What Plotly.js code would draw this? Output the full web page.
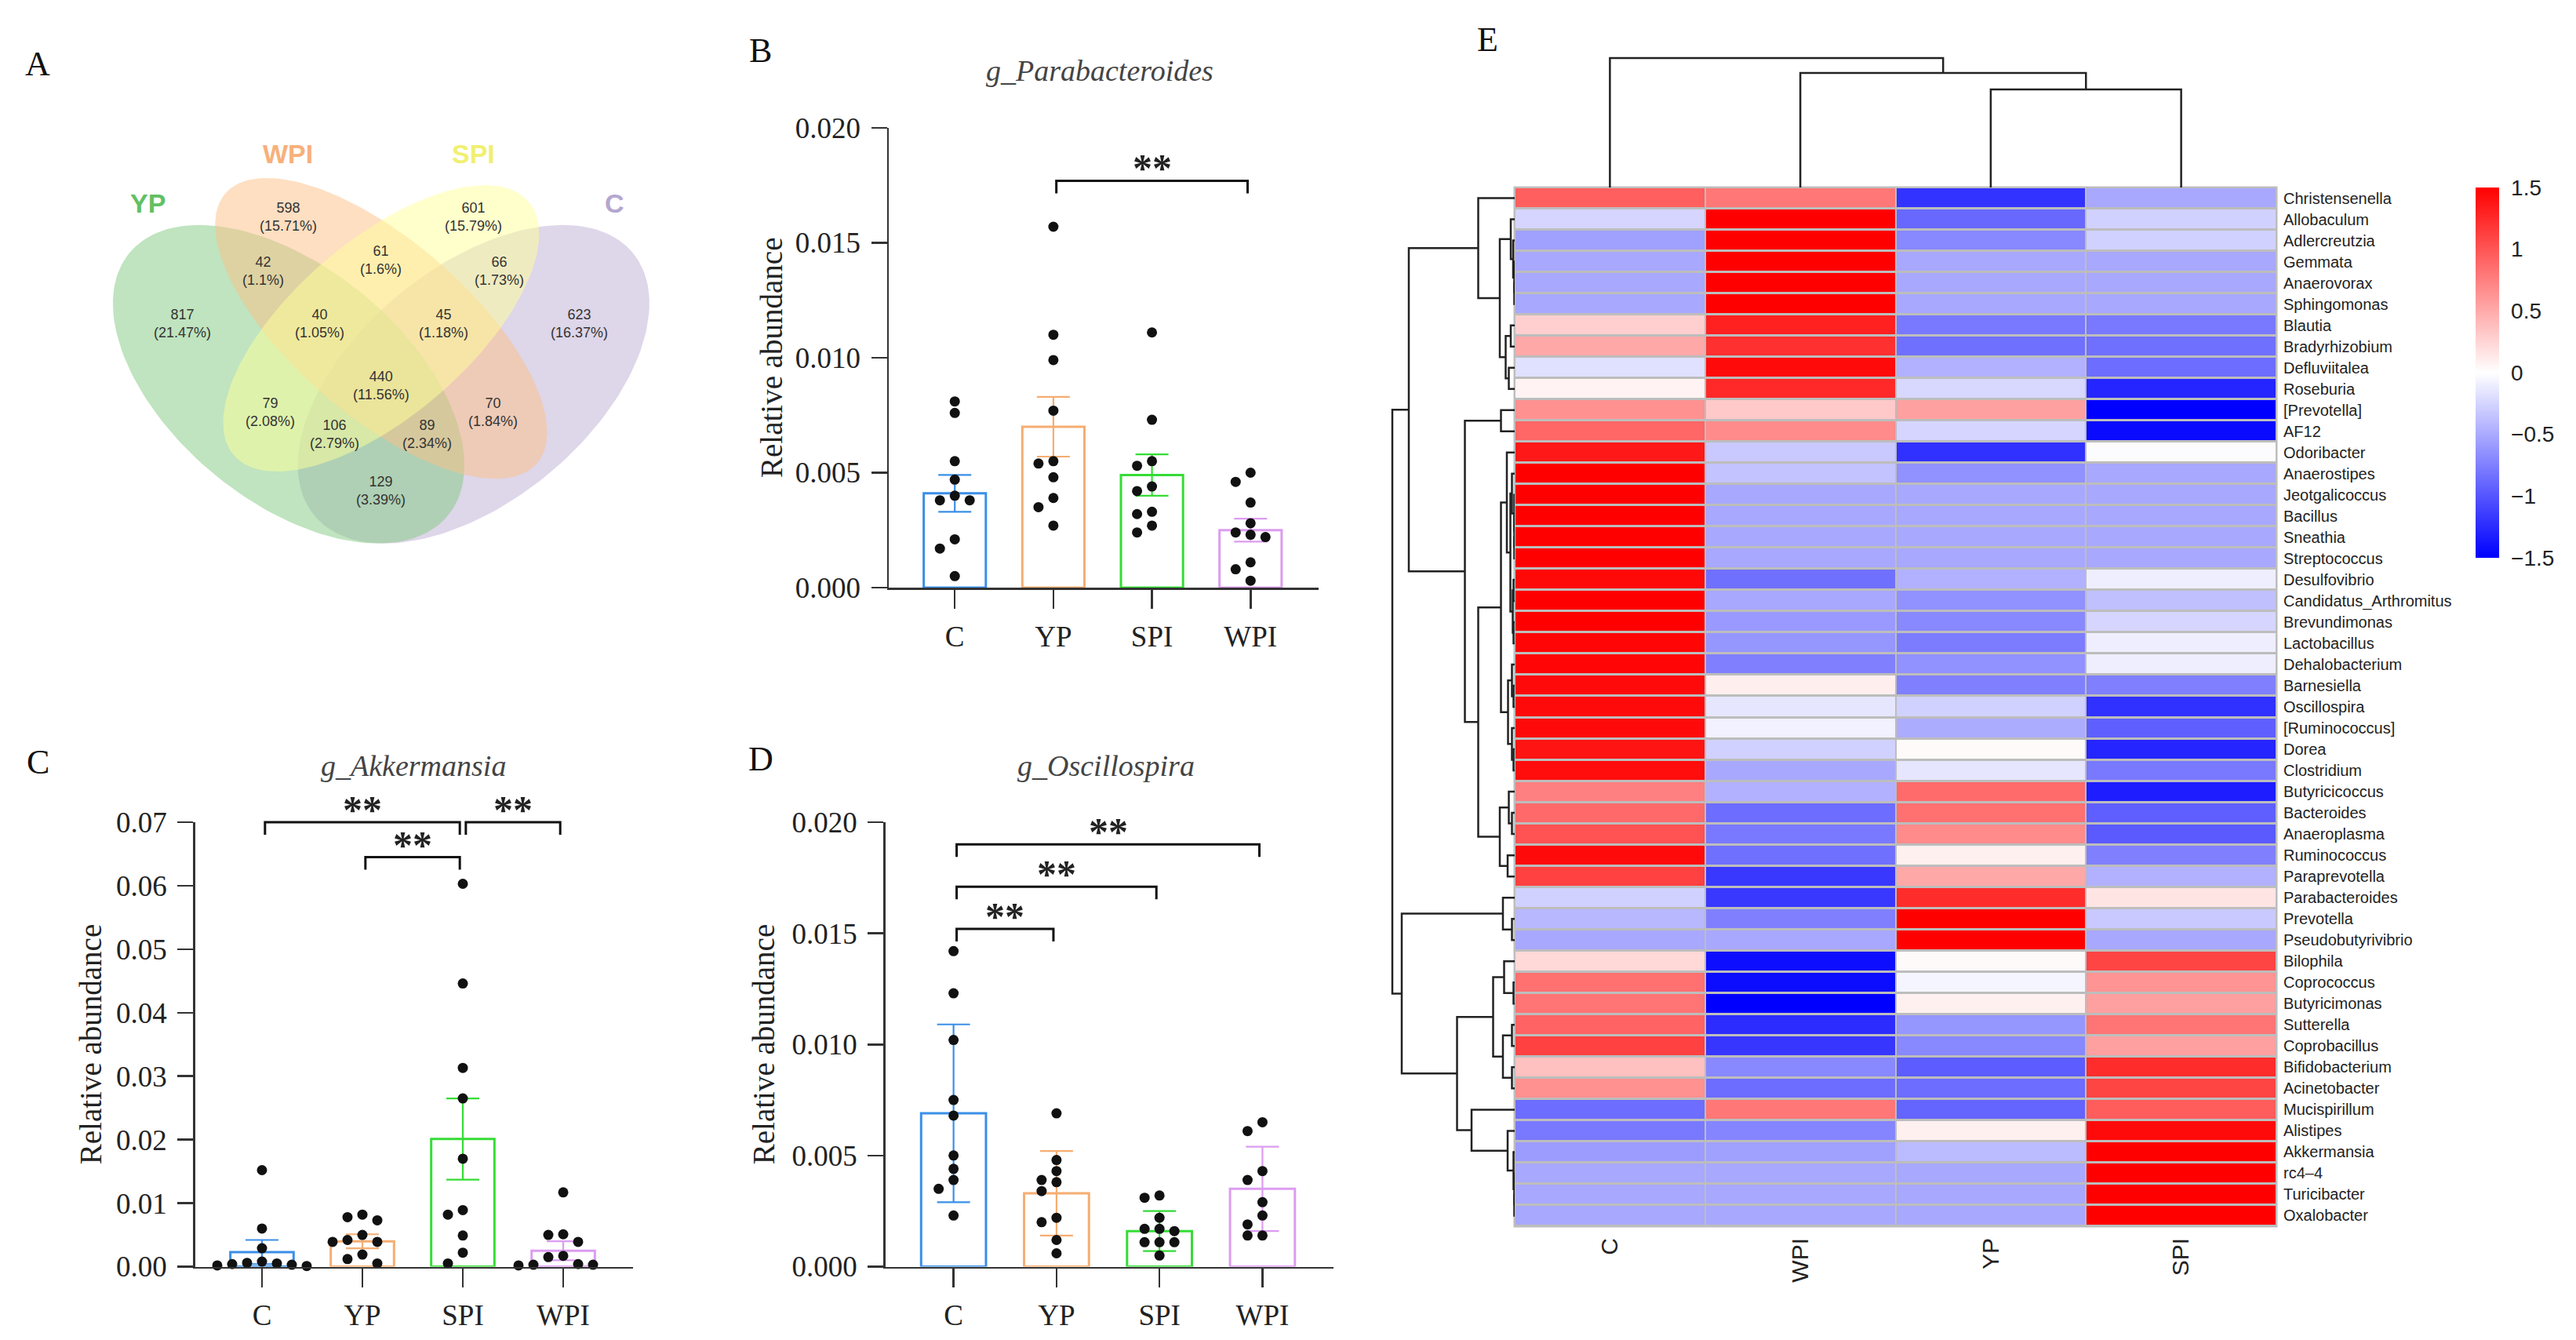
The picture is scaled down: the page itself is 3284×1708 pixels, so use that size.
<!DOCTYPE html>
<html><head><meta charset="utf-8">
<script src="https://cdn.plot.ly/plotly-3.0.1.min.js"></script>
<style>html,body{margin:0;padding:0;background:#fff}</style>
</head><body><div id="chart" style="width:3284px;height:1708px"></div>
<script>
// ===================== DATA =====================
// Panel A: Venn diagram
const vennSets = ['YP', 'WPI', 'SPI', 'C'];
const vennRegionNames = ['YP','WPI','SPI','C','YP&WPI','WPI&SPI','SPI&C','YP&WPI&SPI','WPI&SPI&C','ALL','YP&SPI','WPI&C','YP&SPI&C','YP&WPI&C','YP&C'];
const vennCounts = [817, 598, 601, 623, 42, 61, 66, 40, 45, 440, 79, 70, 106, 89, 129];

// Bar panels
const groups = ['C', 'YP', 'SPI', 'WPI'];

// B: g_Parabacteroides
const parabMean = [0.0041, 0.0070, 0.0049, 0.0025];
const parabErr  = [0.0008, 0.0013, 0.0009, 0.0005];
const parabC   = [0.0081,0.0076,0.0055,0.0047,0.0040,0.0038,0.0038,0.0021,0.0017,0.0005];
const parabYP  = [0.0157,0.0110,0.0099,0.0077,0.0055,0.0054,0.0048,0.0039,0.0035,0.0027];
const parabSPI = [0.0111,0.0073,0.0055,0.0053,0.0044,0.0042,0.0033,0.0032,0.0027,0.0024];
const parabWPI = [0.0050,0.0046,0.0037,0.0028,0.0024,0.0023,0.0022,0.0011,0.0008,0.0003];
const parabSig = [['YP','WPI',0.0177]];

// C: g_Akkermansia
const akkMean = [0.0023, 0.0040, 0.0201, 0.0025];
const akkErr  = [0.0019, 0.0011, 0.0064, 0.0015];
const akkC   = [0.0152,0.0060,0.0029,0.0008,0.0006,0.0005,0.0004,0.0003,0.0002,0.0001];
const akkYP  = [0.0082,0.0078,0.0073,0.0050,0.0042,0.0039,0.0039,0.0019,0.0012,0.0005];
const akkSPI = [0.0603,0.0446,0.0313,0.0265,0.0170,0.0089,0.0082,0.0049,0.0022,0.0005];
const akkWPI = [0.0117,0.0051,0.0050,0.0039,0.0017,0.0015,0.0004,0.0003,0.0003,0.0002];
const akkSig = [['C','SPI',0.0700],['SPI','WPI',0.0700],['YP','SPI',0.0645]];

// D: g_Oscillospira
const oscMean = [0.0069, 0.0033, 0.0016, 0.0035];
const oscErr  = [0.0040, 0.0019, 0.0009, 0.0019];
const oscC   = [0.0142,0.0123,0.0102,0.0075,0.0068,0.0050,0.0044,0.0039,0.0035,0.0023];
const oscYP  = [0.0069,0.0048,0.0043,0.0039,0.0038,0.0034,0.0022,0.0020,0.0012,0.0006];
const oscSPI = [0.0032,0.0031,0.0022,0.0017,0.0017,0.0016,0.0011,0.0011,0.0011,0.0005];
const oscWPI = [0.0065,0.0061,0.0043,0.0039,0.0029,0.0023,0.0019,0.0014,0.0014];
const oscSig = [['C','YP',0.0152],['C','SPI',0.0171],['C','WPI',0.0190]];

// E: heatmap (z-scores), columns in clustered order
const hmCols = ['C', 'WPI', 'YP', 'SPI'];
const hmRows = ['Christensenella','Allobaculum','Adlercreutzia','Gemmata','Anaerovorax','Sphingomonas','Blautia','Bradyrhizobium','Defluviitalea','Roseburia','[Prevotella]','AF12','Odoribacter','Anaerostipes','Jeotgalicoccus','Bacillus','Sneathia','Streptococcus','Desulfovibrio','Candidatus_Arthromitus','Brevundimonas','Lactobacillus','Dehalobacterium','Barnesiella','Oscillospira','[Ruminococcus]','Dorea','Clostridium','Butyricicoccus','Bacteroides','Anaeroplasma','Ruminococcus','Paraprevotella','Parabacteroides','Prevotella','Pseudobutyrivibrio','Bilophila','Coprococcus','Butyricimonas','Sutterella','Coprobacillus','Bifidobacterium','Acinetobacter','Mucispirillum','Alistipes','Akkermansia','rc4\u20134','Turicibacter','Oxalobacter'];
const hmC   = [0.94,-0.25,-0.56,-0.51,-0.51,-0.51,0.28,0.51,-0.18,0.07, 0.65,0.9,1.36,1.5,1.5,1.5,1.5,1.5,1.45,1.5, 1.5,1.47,1.47,1.44,1.44,1.44,1.38,1.43,0.75,0.88, 1.02,1.44,1.12,-0.27,-0.42,-0.51,0.23,0.84,0.82,0.92, 1.12,0.37,0.65,-0.86,-0.79,-0.58,-0.51,-0.51,-0.51];
const hmWPI = [0.8,1.5,1.5,1.5,1.5,1.5,1.31,1.22,1.44,1.26, 0.32,0.68,-0.32,-0.35,-0.51,-0.51,-0.51,-0.51,-0.84,-0.51, -0.6,-0.62,-0.75,0.1,-0.15,-0.08,-0.27,-0.51,-0.46,-0.86, -0.79,-0.84,-1.17,-1.17,-0.75,-0.51,-1.42,-1.43,-1.5,-1.24, -1.18,-0.7,-0.86,0.8,-0.72,-0.56,-0.51,-0.51,-0.51];
const hmYP  = [-1.2,-0.89,-0.7,-0.51,-0.51,-0.51,-0.79,-0.84,-0.46,-0.23, 0.56,-0.25,-1.22,-0.65,-0.51,-0.51,-0.51,-0.51,-0.46,-0.65, -0.7,-0.77,-0.65,-0.75,-0.27,-0.49,0.03,-0.15,0.87,0.84, 0.68,0.09,0.51,1.24,1.5,1.5,0.03,-0.06,0.09,-0.62, -0.7,-0.96,-0.86,-0.91,0.09,-0.4,-0.51,-0.51,-0.51];
const hmSPI = [-0.51,-0.27,-0.27,-0.51,-0.51,-0.51,-0.79,-0.84,-0.86,-1.28, -1.5,-1.44,-0.02,-0.51,-0.51,-0.51,-0.51,-0.51,-0.1,-0.37, -0.25,-0.1,-0.1,-0.75,-1.22,-0.94,-1.28,-0.79,-1.33,-0.94, -0.97,-0.75,-0.46,0.16,-0.32,-0.51,1.1,0.63,0.56,0.82, 0.56,1.24,1.1,0.96,1.44,1.5,1.5,1.5,1.5];
const hmColorTicks = [-1.5, -1, -0.5, 0, 0.5, 1, 1.5];

// Clustering trees: [mergeDistance, left, right]; leaves are row/column indices
const colTree = [165, 0, [146, 1, [125, 2, 3]]];
const rowTree = [156,
  [135,
    [46.5, 0, [19, [5, 1, [2, 2, [0.5, 3, [0.5, 4, 5]]]], [11.5, [5, 6, 7], [7.5, 8, 9]]]],
    [63.5, [17.5, 10, 11],
      [46.5,
        [17.5,
          [10, 12, [5.5, [3.5, 13, [0.5, 14, [0.5, 15, [0.5, 16, 17]]]], [2.5, [1.5, 18, 19], [1.5, 20, 21]]]],
          [8.5, [3.5, 22, [1.5, 23, 24]], [3.5, 25, [1.5, 26, 27]]]],
        [19, [7.5, 28, [3.5, 29, 30]], [9, 31, 32]]]]],
  [144,
    [15, 33, [3.5, 34, 35]],
    [73.5,
      [27.5, [13.5, 36, [1.5, 37, 38]], [15, [3.5, 39, 40], [3.5, 41, 42]]],
      [55, 43, [9, 44, [1.5, 45, [0.5, 46, [0.5, 47, 48]]]]]]]];

// ===================== STYLE / LAYOUT CONSTANTS =====================
const W = 3284, H = 1708;
const SERIF = 'Liberation Serif', SANS = 'Liberation Sans';
const groupColors = ['#3a8fe8', '#f5ad72', '#35dc35', '#dc9cf0'];
const vennFill = {YP:'rgba(127,201,127,0.5)', WPI:'rgba(253,192,134,0.5)', SPI:'rgba(255,255,153,0.5)', C:'rgba(190,174,212,0.5)'};
const vennLabelColor = {YP:'#62c062', WPI:'#f8b07a', SPI:'#f0f070', C:'#b5a6cf'};
const vennEllipses = [ // VennDiagram quad layout (unit coords)
  {set:'C',   cx:0.65, cy:0.47, a:0.35, b:0.20, rot:45},
  {set:'YP',  cx:0.35, cy:0.47, a:0.35, b:0.20, rot:135},
  {set:'WPI', cx:0.50, cy:0.57, a:0.35, b:0.15, rot:135},
  {set:'SPI', cx:0.50, cy:0.57, a:0.33, b:0.15, rot:45}];
const vennLabelPos = [[0.178,0.579],[0.349,0.770],[0.649,0.770],[0.821,0.579],[0.309,0.672],[0.5,0.692],[0.691,0.672],[0.400,0.579],[0.601,0.579],[0.5,0.468],[0.320,0.420],[0.681,0.420],[0.425,0.380],[0.575,0.380],[0.5,0.280]];
const vennSetPos = {YP:[0.122,0.794], WPI:[0.349,0.883], SPI:[0.649,0.883], C:[0.879,0.794]};

const ydom = (top, bot) => [1 - bot / H, 1 - top / H];
const xdom = (l, r) => [l / W, r / W];

const traces = [];
const shapes = [];
const annotations = [];
const layout = {
  width: W, height: H, margin: {l:0, r:0, t:0, b:0},
  paper_bgcolor: '#ffffff', plot_bgcolor: 'rgba(0,0,0,0)',
  showlegend: false, font: {family: SERIF, color: '#222'}
};

// ===================== PANEL A: VENN =====================
layout.xaxis5 = {domain: xdom(92.9, 878.9), range: [0, 1], visible: false, anchor: 'y5', fixedrange: true};
layout.yaxis5 = {domain: ydom(112.4, 824.4), range: [0, 1], visible: false, anchor: 'x5', fixedrange: true};
vennEllipses.forEach(e => {
  const xs = [], ys = [], th = e.rot * Math.PI / 180;
  for (let k = 0; k <= 180; k++) {
    const t = 2 * Math.PI * k / 180;
    const ex = e.a * Math.cos(t), ey = e.b * Math.sin(t);
    xs.push(e.cx + ex * Math.cos(th) - ey * Math.sin(th));
    ys.push(e.cy + ex * Math.sin(th) + ey * Math.cos(th));
  }
  traces.push({type:'scatter', mode:'lines', x: xs, y: ys, xaxis:'x5', yaxis:'y5', fill:'toself',
    fillcolor: vennFill[e.set], line:{width:0, color:'rgba(0,0,0,0)'}, hoverinfo:'skip'});
});
const vennTotal = vennCounts.reduce((s, v) => s + v, 0);
vennCounts.forEach((c, i) => {
  const pct = parseFloat((c / vennTotal * 100).toFixed(2)).toString();
  annotations.push({xref:'x5', yref:'y5', x: vennLabelPos[i][0], y: vennLabelPos[i][1], text: c + '<br>(' + pct + '%)',
    showarrow:false, font:{family:SANS, size:18, color:'#333'}, xanchor:'center', yanchor:'middle'});
});
vennSets.forEach(s => {
  annotations.push({xref:'x5', yref:'y5', x: vennSetPos[s][0], y: vennSetPos[s][1], text: '<b>' + s + '</b>',
    showarrow:false, font:{family:SANS, size:34, color: vennLabelColor[s]}, xanchor:'center', yanchor:'middle'});
});

// ===================== BAR PANELS =====================
function swarm(vals, pxPerUnit, step, minDist) {
  const placed = [], offs = [];
  vals.forEach(v => {
    const y = v * pxPerUnit;
    for (let k = 0; k < 30; k++) {
      const o = (k === 0 ? 0 : (k % 2 === 1 ? -1 : 1) * Math.ceil(k / 2)) * step;
      if (placed.every(p => Math.hypot(p.o - o, p.y - y) >= minDist)) { placed.push({o, y}); offs.push(o); break; }
    }
  });
  return offs;
}

function barPanel(P, means, errs, pts, sig, title) {
  const xk = 'xaxis' + P.n, yk = 'yaxis' + P.n, xa = 'x' + P.n, ya = 'y' + P.n;
  layout[xk] = {domain: xdom(P.xd[0], P.xd[1]), range: P.xr, anchor: ya, tickvals: groups.map((g, i) => i), ticktext: groups,
    showline: true, linecolor: '#333', linewidth: 2.5, ticks: 'outside', ticklen: 24, tickwidth: 2.5, tickcolor: '#333',
    tickfont: {family: SERIF, size: 37, color: '#222'}, ticklabelstandoff: 4, showgrid: false, zeroline: false, automargin: false, fixedrange: true};
  const tv = []; for (let v = P.yr[0]; v <= P.yr[1] + 1e-9; v += P.dtick) tv.push(+v.toFixed(6));
  layout[yk] = {domain: ydom(P.yd[0], P.yd[1]), range: P.yr, anchor: xa, tickvals: tv, ticktext: tv.map(v => v.toFixed(P.dec)),
    showline: true, linecolor: '#333', linewidth: 2.5, ticks: 'outside', ticklen: 20, tickwidth: 2.5, tickcolor: '#333',
    tickfont: {family: SERIF, size: 37, color: '#222'}, ticklabelstandoff: 6, showgrid: false, zeroline: false, automargin: false, fixedrange: true};
  groups.forEach((g, i) => {
    traces.push({type:'bar', x:[i], y:[means[i]], width:0.63, xaxis: xa, yaxis: ya,
      marker:{color:'rgba(255,255,255,0)', line:{color: groupColors[i], width: 3}},
      error_y:{type:'data', array:[errs[i]], visible:true, color: groupColors[i], thickness: 2.2, width: 21}, hoverinfo:'skip'});
  });
  const pxPerUnit = (P.yd[1] - P.yd[0]) / (P.yr[1] - P.yr[0]);
  const pxPerCat = (P.xd[1] - P.xd[0]) / (P.xr[1] - P.xr[0]);
  const xs = [], ys = [];
  pts.forEach((arr, i) => {
    const offs = swarm(arr, pxPerUnit, 19, 14);
    arr.forEach((v, k) => { xs.push(i + offs[k] / pxPerCat); ys.push(v); });
  });
  traces.push({type:'scatter', mode:'markers', x: xs, y: ys, xaxis: xa, yaxis: ya, cliponaxis: false,
    marker:{color:'#111', size: 13}, hoverinfo:'skip'});
  // significance brackets (paper coords via the panel's scale)
  const xpx = v => P.xd[0] + (v - P.xr[0]) / (P.xr[1] - P.xr[0]) * (P.xd[1] - P.xd[0]);
  const ypx = v => P.yd[1] - (v - P.yr[0]) * pxPerUnit;
  sig.forEach(([a, b, yv]) => {
    const x1 = xpx(groups.indexOf(a) + 0.03) / W, x2 = xpx(groups.indexOf(b) - 0.03) / W;
    const yTop = 1 - ypx(yv) / H, yLow = 1 - (ypx(yv) + 16) / H;
    shapes.push({type:'path', xref:'paper', yref:'paper', path: `M ${x1} ${yLow} L ${x1} ${yTop} L ${x2} ${yTop} L ${x2} ${yLow}`,
      line:{color:'#111', width: 3}});
    annotations.push({xref:'paper', yref:'paper', x: (x1 + x2) / 2, y: yTop, yshift: -14, xanchor:'center', yanchor:'bottom',
      text:'<b>**</b>', showarrow:false, font:{family: SERIF, size: 50, color:'#222'}});
  });
  // title, y title, letter
  annotations.push({xref:'paper', yref:'paper', x: P.title[0] / W, y: 1 - P.title[1] / H, text: title, showarrow:false,
    xanchor:'center', yanchor:'middle', font:{family: SERIF, size: 38, color:'#444', style:'italic'}});
  annotations.push({xref:'paper', yref:'paper', x: P.ytitle / W, y: 1 - (P.yd[0] + P.yd[1]) / 2 / H, text:'Relative abundance',
    textangle: -90, showarrow:false, xanchor:'center', yanchor:'middle', font:{family: SERIF, size: 39, color:'#222'}});
  annotations.push({xref:'paper', yref:'paper', x: P.letter[0] / W, y: 1 - P.letter[1] / H, text: P.letterText, showarrow:false,
    xanchor:'center', yanchor:'middle', font:{family: SERIF, size: 44, color:'#111'}});
}

const PB = {n:'', xd:[1133,1681], yd:[163,749], xr:[-0.67,3.69], yr:[0,0.020], dtick:0.005, dec:3, title:[1402,90], ytitle:983, letter:[969,65], letterText:'B'};
const PC = {n:'2', xd:[248.6,807], yd:[1048,1614.5], xr:[-0.667,3.695], yr:[0,0.07], dtick:0.01, dec:2, title:[527,976], ytitle:115, letter:[48,971], letterText:'C'};
const PD = {n:'3', xd:[1128.6,1700], yd:[1048,1614.5], xr:[-0.663,3.69], yr:[0,0.020], dtick:0.005, dec:3, title:[1410,976], ytitle:973, letter:[970,968], letterText:'D'};
barPanel(PB, parabMean, parabErr, [parabC, parabYP, parabSPI, parabWPI], parabSig, 'g_Parabacteroides');
barPanel(PC, akkMean, akkErr, [akkC, akkYP, akkSPI, akkWPI], akkSig, 'g_Akkermansia');
barPanel(PD, oscMean, oscErr, [oscC, oscYP, oscSPI, oscWPI], oscSig, 'g_Oscillospira');
annotations.push({xref:'paper', yref:'paper', x: 48 / W, y: 1 - 82 / H, text:'A', showarrow:false, xanchor:'center', yanchor:'middle', font:{family: SERIF, size: 44, color:'#111'}});

// ===================== PANEL E: HEATMAP =====================
const HM = {x0:1931, x1:2902, y0:239, y1:1563};
const z = hmRows.map((r, i) => [hmC[i], hmWPI[i], hmYP[i], hmSPI[i]]);
shapes.push({type:'rect', xref:'paper', yref:'paper', layer:'below', x0:(HM.x0 - 1.5) / W, x1:(HM.x1 + 1.5) / W,
  y0: 1 - (HM.y1 + 1.5) / H, y1: 1 - (HM.y0 - 1.5) / H, fillcolor:'#bdbdbd', line:{width:0}});
traces.push({type:'heatmap', x: hmCols, y: hmRows, z: z, xaxis:'x4', yaxis:'y4', xgap: 2, ygap: 3,
  colorscale:[[0,'#0000ff'],[0.5,'#ffffff'],[1,'#ff0000']], zmin:-1.5, zmax:1.5, hoverinfo:'skip',
  colorbar:{x: 3156 / W, xanchor:'left', xpad:0, y: 1 - 475 / H, yanchor:'middle', ypad:0, len: 472, lenmode:'pixels',
    thickness: 30, thicknessmode:'pixels', outlinewidth: 0, tickvals: hmColorTicks, ticks:'outside', ticklen: 10,
    tickcolor:'rgba(0,0,0,0)', tickfont:{family: SANS, size: 28, color:'#222'}}});
layout.xaxis4 = {domain: xdom(HM.x0, HM.x1), range:[-0.5, 3.5], anchor:'y4', type:'category', tickangle:-90, ticks:'',
  tickfont:{family: SANS, size: 30, color:'#222'}, ticklabelstandoff: 8, showgrid:false, zeroline:false, showline:false, automargin:false, fixedrange:true};
layout.yaxis4 = {domain: ydom(HM.y0, HM.y1), range:[48.5, -0.5], anchor:'x4', type:'category', side:'right', ticks:'',
  tickfont:{family: SANS, size: 20, color:'#222'}, ticklabelstandoff: 8, showgrid:false, zeroline:false, showline:false, automargin:false, fixedrange:true};
annotations.push({xref:'paper', yref:'paper', x: 1896 / W, y: 1 - 50 / H, text:'E', showarrow:false, xanchor:'center', yanchor:'middle', font:{family: SERIF, size: 44, color:'#111'}});

// dendrograms
function walk(node, segs) {
  if (typeof node === 'number') return {p: node, h: 0};
  const [h, a, b] = node;
  const A = walk(a, segs), B = walk(b, segs);
  segs.push([[A.p, A.h], [A.p, h], [B.p, h], [B.p, B.h]]);
  return {p: (A.p + B.p) / 2, h};
}
const colSegs = []; walk(colTree, colSegs);
const rowSegs = []; walk(rowTree, rowSegs);
const cx = [], cy = [];
colSegs.forEach(s => { s.forEach(([p, h]) => { cx.push(p); cy.push(h); }); cx.push(null); cy.push(null); });
const rx = [], ry = [];
rowSegs.forEach(s => { s.forEach(([p, h]) => { rx.push(h); ry.push(p); }); rx.push(null); ry.push(null); });
layout.xaxis6 = {domain: xdom(HM.x0, HM.x1), range:[-0.5, 3.5], anchor:'y6', visible:false, fixedrange:true};
layout.yaxis6 = {domain: ydom(HM.y0 - 167, HM.y0), range:[0, 167], anchor:'x6', visible:false, fixedrange:true};
layout.xaxis7 = {domain: xdom(HM.x0 - 158, HM.x0), range:[158, 0], anchor:'y7', visible:false, fixedrange:true};
layout.yaxis7 = {domain: ydom(HM.y0, HM.y1), range:[48.5, -0.5], anchor:'x7', visible:false, fixedrange:true};
traces.push({type:'scatter', mode:'lines', x: cx, y: cy, xaxis:'x6', yaxis:'y6', line:{color:'#222', width:2.5}, hoverinfo:'skip', connectgaps:false});
traces.push({type:'scatter', mode:'lines', x: rx, y: ry, xaxis:'x7', yaxis:'y7', line:{color:'#222', width:2.5}, hoverinfo:'skip', connectgaps:false});

layout.shapes = shapes;
layout.annotations = annotations;
Plotly.newPlot('chart', traces, layout, {staticPlot: true, displayModeBar: false});
</script>
</body></html>
